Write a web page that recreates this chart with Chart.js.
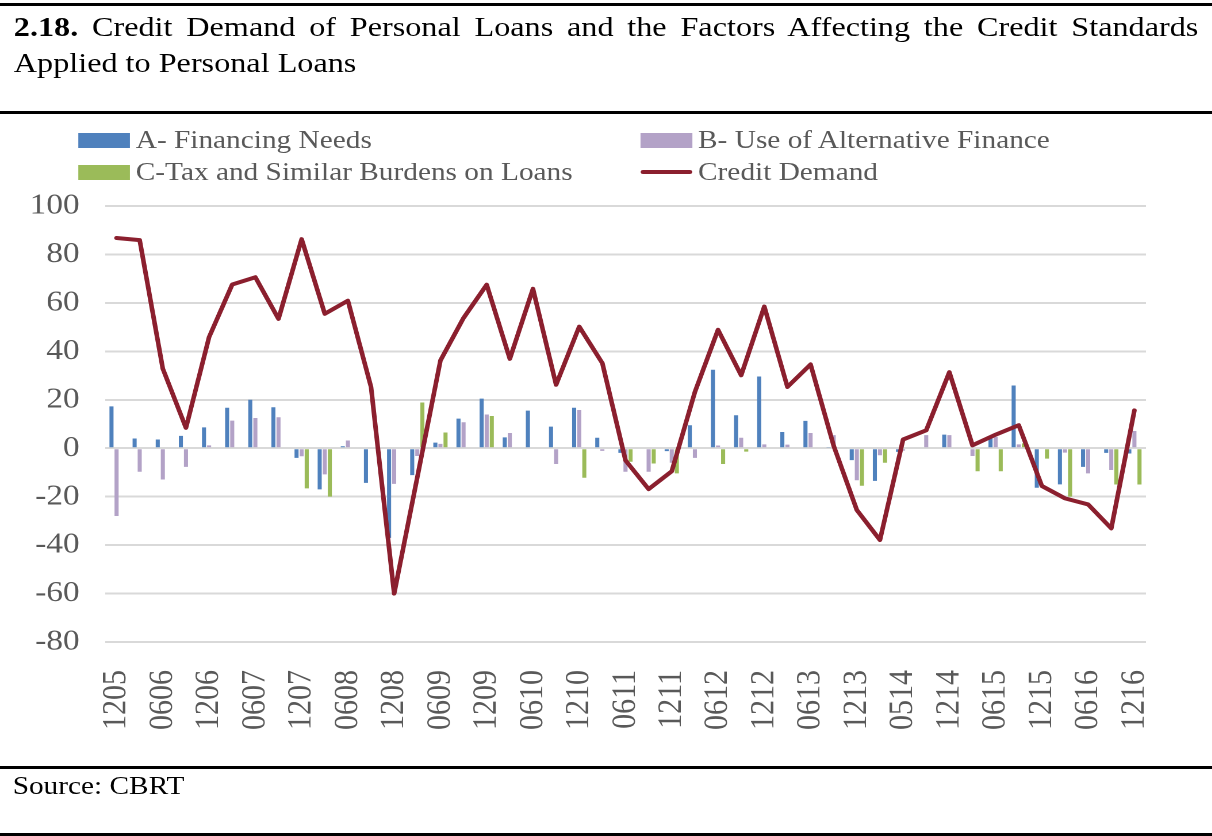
<!DOCTYPE html>
<html>
<head>
<meta charset="utf-8">
<script src="https://cdn.jsdelivr.net/npm/chart.js@4.4.1/dist/chart.umd.min.js"></script>
<style>
  body { margin: 0; background: #fff; font-family: "Liberation Serif", "Times New Roman", serif; }
  #page { position: relative; width: 1212px; height: 836px; overflow: hidden; }
  /* the whole figure is laid out narrow and then widened, which gives the broad serif look */
  #sheet { position: absolute; left: 0; top: 0; width: 1054px; height: 836px; transform: scaleX(1.15); transform-origin: 0 0; }
  .rule { position: absolute; left: 0; width: 1054px; height: 3px; background: #000; }
  #title { position: absolute; left: 12px; top: 9px; width: 1030px; font-size: 28px; line-height: 36px; color: #000; }
  #title .first { text-align: justify; text-align-last: justify; }
  #source { position: absolute; left: 11px; top: 771px; font-size: 25.5px; line-height: 30px; color: #000; }
  #chartBox { position: absolute; left: 0; top: 120px; width: 1054px; height: 640px; }
  #legend { position: absolute; left: 68px; top: 124px; display: grid; grid-template-columns: 489px auto; font-size: 25.5px; line-height: 32px; color: #595959; }
  #legend .item { display: flex; align-items: center; white-space: nowrap; }
  #legend .key { display: inline-block; width: 45px; height: 15px; margin-right: 5px; }
  #legend .key.line { height: 4px; border-radius: 2px; }
</style>
</head>
<body>
<div id="page">
<div id="sheet">
  <div class="rule" style="top:3px"></div>
  <div id="title">
    <div class="first"><b>2.18.</b> Credit Demand of Personal Loans and the Factors Affecting the Credit Standards</div>
    <div>Applied to Personal Loans</div>
  </div>
  <div class="rule" style="top:111px"></div>
  <div id="chartBox"><canvas id="myChart"></canvas></div>
  <div id="legend"></div>
  <div class="rule" style="top:766px"></div>
  <div id="source">Source: CBRT</div>
  <div class="rule" style="top:833px"></div>
</div>
</div>
<script>
// survey periods, labelled every second one on the axis
const tickLabels = ["1205", "0606", "1206", "0607", "1207", "0608", "1208", "0609", "1209", "0610", "1210", "0611",
  "1211", "0612", "1212", "0613", "1213", "0514", "1214", "0615", "1215", "0616", "1216"];

const financingNeeds = [17.3, 4, 3.6, 5.1, 8.6, 16.7, 20, 16.9, -4, -17, 0.8, -14.3, -37, -11.1, 2.3, 12.2, 20.5, 4.5,
  15.5, 8.9, 16.7, 4.3, -1.9, 0, -1.2, 9.5, 32.4, 13.6, 29.6, 6.7, 11.3, 0.5, -4.9, -13.5, -1.5, 0, 5.6, 0, 5, 25.9,
  -16.3, -14.9, -7.7, -1.9, -2.2];
const alternativeFinance = [-28, -9.7, -12.9, -7.7, 1.2, 11.4, 12.5, 12.8, -3.3, -10.8, 3.2, 0, -14.7, -3.2, 1.8, 10.7,
  13.9, 6.3, 0, -6.5, 15.8, -1.1, -9.7, -9.7, -6, -4, 1.1, 4.3, 1.6, 1.5, 6.3, 5.4, -13.2, -2.9, -1, 5.4, 5.4, -3.2,
  4.7, 1.6, 0, -1.8, -10.4, -9, 7.1];
const taxBurdens = [0, 0, 0, 0, 0, 0, 0, 0, -16.6, -20, 0, 0, 0, 18.9, 6.5, 0, 13.3, 0, 0, 0, -12.2, 0, -5.6, -6.3,
  -10.4, 0, -6.5, -1.4, 0, 0, 0, 0, -15.5, -6, 0, 0, 0, -9.5, -9.5, 2, -4.3, -20, 0, -15, -15];
const creditDemand = [86.8, 85.9, 32.8, 8.4, 45.9, 67.6, 70.6, 53.4, 86.3, 55.5, 60.9, 25.3, -60, -12, 36.2, 53.8,
  67.5, 36.9, 65.8, 26.2, 50.2, 35.1, -5, -16.9, -9.5, 23.2, 48.9, 30.1, 58.5, 25.3, 34.6, 1, -25.5, -37.9, 3.6, 7.4,
  31.4, 1.2, 5.6, 9.5, -15.6, -20.7, -23.2, -33.1, 15.6];

const categories = [];
for (let i = 0; i < creditDemand.length; i++) {
  categories.push(i % 2 === 0 ? tickLabels[i / 2] : "");
}

const FONT = "'Liberation Serif', 'Times New Roman', serif";
const GREY = "#595959";

function createAndAppend(name, parent, options = {}) {
  const elem = document.createElement(name);
  parent.appendChild(elem);
  Object.keys(options).forEach(key => {
    if (key === "text") {
      elem.textContent = options[key];
    } else {
      elem.setAttribute(key, options[key]);
    }
  });
  return elem;
}

function barSet(label, data, color) {
  return {
    type: "bar",
    label: label,
    data: data,
    backgroundColor: color,
    borderWidth: 0,
    categoryPercentage: 0.66,
    barPercentage: 0.8,
    order: 1
  };
}

const ctx = document.getElementById("myChart").getContext("2d");
const chart = new Chart(ctx, {
  data: {
    labels: categories,
    datasets: [
      barSet("A- Financing Needs", financingNeeds, "#4f81bd"),
      barSet("B- Use of Alternative Finance", alternativeFinance, "#b3a2c7"),
      barSet("C-Tax and Similar Burdens on Loans", taxBurdens, "#9bbb59"),
      {
        type: "line",
        label: "Credit Demand",
        data: creditDemand,
        borderColor: "#8b1f2e",
        backgroundColor: "#8b1f2e",
        borderWidth: 4,
        borderJoinStyle: "round",
        borderCapStyle: "round",
        pointRadius: 0,
        tension: 0,
        order: 0
      }
    ]
  },
  options: {
    responsive: true,
    maintainAspectRatio: false,
    animation: false,
    devicePixelRatio: 2,
    layout: { padding: { top: 86, right: 57.5, bottom: 0, left: 0 } },
    plugins: {
      legend: { display: false },
      tooltip: { enabled: false }
    },
    scales: {
      x: {
        offset: true,
        grid: { display: false },
        border: { display: false },
        ticks: {
          autoSkip: false,
          minRotation: 90,
          maxRotation: 90,
          padding: 20,
          color: GREY,
          font: { family: FONT, size: 30 }
        },
        afterFit: scale => { scale.height = 118; }
      },
      y: {
        min: -80,
        max: 100,
        grid: { color: "#d9d9d9", lineWidth: 2, drawTicks: false },
        border: { display: false },
        ticks: {
          stepSize: 20,
          padding: 22,
          color: GREY,
          font: { family: FONT, size: 29 }
        },
        afterFit: scale => { scale.width = 91.3; }
      }
    }
  }
});

// legend in two columns, built from the chart's own datasets
const legendBox = document.getElementById("legend");
chart.data.datasets.forEach(ds => {
  const item = createAndAppend("div", legendBox, { class: "item" });
  const key = createAndAppend("span", item, { class: ds.type === "line" ? "key line" : "key" });
  key.style.background = ds.type === "line" ? ds.borderColor : ds.backgroundColor;
  createAndAppend("span", item, { text: ds.label });
});
</script>
</body>
</html>
